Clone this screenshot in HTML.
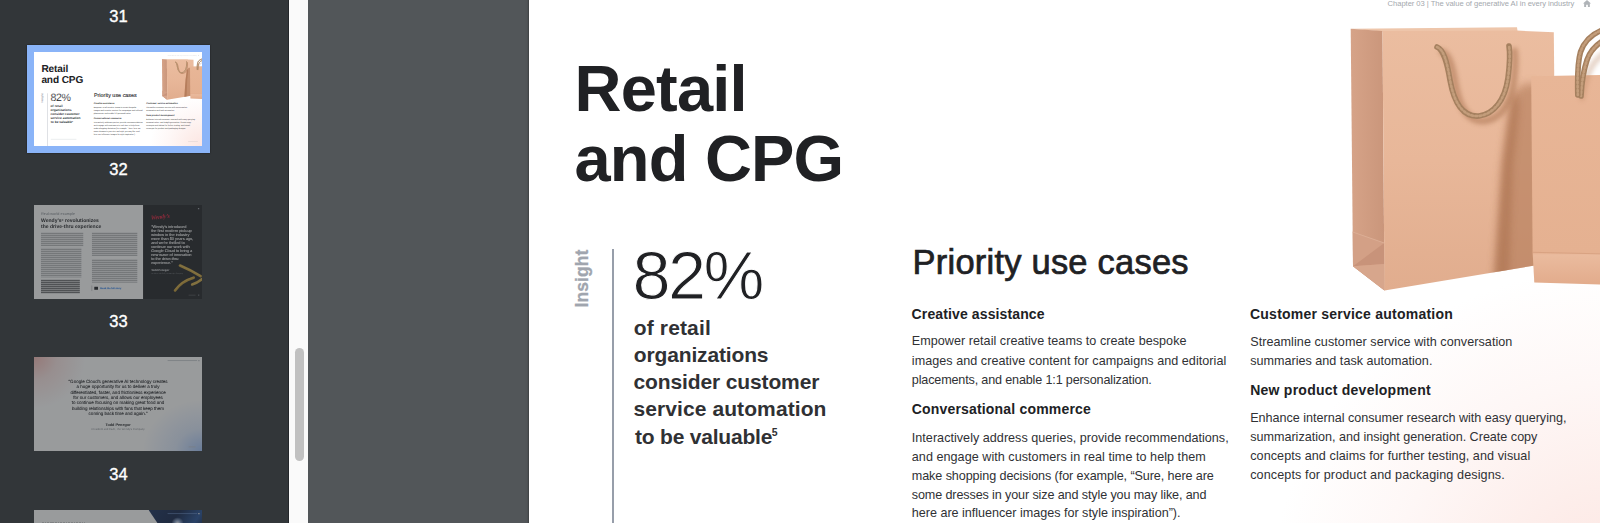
<!DOCTYPE html>
<html lang="en"><head><meta charset="utf-8"><title>Retail and CPG</title>
<style>
html,body{margin:0;padding:0;}
body{width:1600px;height:523px;overflow:hidden;background:#525659;font-family:"Liberation Sans",sans-serif;}
#app{position:relative;width:1600px;height:523px;overflow:hidden;}
.side{position:absolute;left:0;top:0;width:290px;height:523px;background:#323639;overflow:hidden;}
.track{position:absolute;left:289px;top:0;width:19px;height:523px;background:#fafafa;box-shadow:-1px 0 0 #23262a;}
.track .thumb{position:absolute;left:5.6px;top:348px;width:9px;height:113px;border-radius:5px;background:#c1c1c1;}
.main{position:absolute;left:308px;top:0;width:1292px;height:523px;background:#525659;overflow:hidden;}
.slide{position:absolute;left:-308px;top:0;width:1700px;height:600px;}
.pg{position:absolute;left:529px;top:-21px;width:1083px;height:609px;background:radial-gradient(ellipse 340px 320px at 100% 100%,#fce5e1 0%,#fdeeeb 32%,#fef7f6 64%,#fff 100%),#fff;box-shadow:0 0 2.5px 0 rgba(0,0,0,.55);}
.g{margin:0;padding:0;font-size:inherit;font-weight:400;display:block;}
.l{position:absolute;white-space:nowrap;display:block;vertical-align:baseline;}
.abs{position:absolute;}
.ins{position:absolute;left:552px;top:267.5px;width:60px;height:21px;line-height:21px;font-size:17.5px;font-weight:700;color:#a0a5ae;-webkit-text-stroke:0.3px #a0a5ae;transform:rotate(-90deg);text-align:center;white-space:nowrap;letter-spacing:0.1px;}
.vline{position:absolute;left:611.5px;top:248.5px;width:2px;height:340px;background:#979eaa;}
/* thumbnails */
.tn{position:absolute;left:0;width:237px;text-align:center;color:#fff;font-size:16.5px;line-height:18px;-webkit-text-stroke:0.35px #fff;}
.tb{position:absolute;left:34px;width:168.25px;height:93.85px;overflow:hidden;background:#fff;}
.sel{position:absolute;left:27px;top:45px;width:183px;height:108.3px;background:#8ab4f8;box-shadow:0 0 1.5px rgba(0,0,0,.6);}
.sc{position:absolute;left:0;top:0;width:1700px;height:700px;transform-origin:0 0;transform:scale(0.15535) translate(-527px,17px);}
.sc2{position:absolute;left:0;top:0;width:1083px;height:609px;transform-origin:0 0;transform:scale(0.15535);background:#fff;}
.dim{opacity:.5;}
.sc,.sc2{text-rendering:geometricPrecision;}
.a{position:absolute;}
.t{white-space:nowrap;}
.bars{background:repeating-linear-gradient(180deg,rgba(60,64,67,.12) 0,rgba(60,64,67,.12) 5px,rgba(60,64,67,.37) 5px,rgba(60,64,67,.37) 11px,rgba(60,64,67,.12) 11px,rgba(60,64,67,.12) 12.877px);}
.bars.b{background:repeating-linear-gradient(180deg,rgba(32,33,36,.3) 0,rgba(32,33,36,.3) 5px,rgba(32,33,36,.65) 5px,rgba(32,33,36,.65) 11px,rgba(32,33,36,.3) 11px,rgba(32,33,36,.3) 12.877px);}

</style></head><body>
<div id="app">
<div class="side">
<div class="tn" style="top:7.1px">31</div>
<div class="sel"></div>
<div class="tb" style="top:52px"><div class="sc">
<div class="pg"></div>
<svg class="abs" style="left:1582.6px;top:-0.4px" width="8" height="7.2" viewBox="0 0 18 16"><path d="M9 0 L0 8 H2.6 V16 H7 V10.5 H11 V16 H15.4 V8 H18 Z" fill="#b0b4b8"/></svg>
<div class="ins">Insight</div>
<div class="vline"></div>
<header class="g">
<span class="l" style="left:1387.60px;top:-0.73px;font-size:7.6px;line-height:10px;color:#a4a8ad;letter-spacing:-0.045px;">Chapter 03 | The value of generative AI in every industry</span>
</header>
<h1 class="g">
<span class="l" style="left:574.50px;top:46.98px;font-size:65px;line-height:84px;color:#202124;font-weight:700;letter-spacing:-0.780px;">Retail</span>
<span class="l" style="left:574.50px;top:116.98px;font-size:65px;line-height:84px;color:#202124;font-weight:700;letter-spacing:-0.800px;">and CPG</span>
</h1>
<div class="g">
<span class="l" style="left:632.60px;top:230.76px;font-size:68.5px;line-height:89px;color:#202124;letter-spacing:-2.650px;-webkit-text-stroke:1px #fff;">82%</span>
</div>
<p class="g">
<span class="l" style="left:633.80px;top:314.32px;font-size:21px;line-height:27px;color:#303134;font-weight:700;letter-spacing:0.138px;">of retail</span>
<span class="l" style="left:633.80px;top:341.22px;font-size:21px;line-height:27px;color:#303134;font-weight:700;letter-spacing:-0.150px;">organizations</span>
<span class="l" style="left:633.50px;top:368.22px;font-size:21px;line-height:27px;color:#303134;font-weight:700;letter-spacing:-0.125px;">consider customer</span>
<span class="l" style="left:633.50px;top:395.32px;font-size:21px;line-height:27px;color:#303134;font-weight:700;letter-spacing:0.088px;">service automation</span>
<span class="l" style="left:635.00px;top:422.52px;font-size:21px;line-height:27px;color:#303134;font-weight:700;letter-spacing:-0.208px;">to be valuable</span>
<sup class="l" style="left:771.70px;top:425.36px;font-size:10.5px;line-height:14px;color:#303134;font-weight:700;">5</sup>
</p>
<h2 class="g">
<span class="l" style="left:912.60px;top:239.85px;font-size:34.5px;line-height:45px;color:#202124;letter-spacing:0.218px;-webkit-text-stroke:0.7px #202124;">Priority use cases</span>
</h2>
<h3 class="g">
<span class="l" style="left:911.60px;top:305.25px;font-size:14px;line-height:18px;color:#202124;font-weight:700;letter-spacing:0.122px;">Creative assistance</span>
</h3>
<p class="g">
<span class="l" style="left:911.80px;top:333.43px;font-size:12.6px;line-height:16px;color:#303134;letter-spacing:0.037px;">Empower retail creative teams to create bespoke</span>
<span class="l" style="left:911.80px;top:352.63px;font-size:12.6px;line-height:16px;color:#303134;letter-spacing:0.041px;">images and creative content for campaigns and editorial</span>
<span class="l" style="left:911.80px;top:371.63px;font-size:12.6px;line-height:16px;color:#303134;letter-spacing:-0.155px;">placements, and enable 1:1 personalization.</span>
</p>
<h3 class="g">
<span class="l" style="left:911.70px;top:400.45px;font-size:14px;line-height:18px;color:#202124;font-weight:700;letter-spacing:0.182px;">Conversational commerce</span>
</h3>
<p class="g">
<span class="l" style="left:911.80px;top:429.63px;font-size:12.6px;line-height:16px;color:#303134;letter-spacing:0.022px;">Interactively address queries, provide recommendations,</span>
<span class="l" style="left:911.80px;top:448.63px;font-size:12.6px;line-height:16px;color:#303134;letter-spacing:0.040px;">and engage with customers in real time to help them</span>
<span class="l" style="left:911.80px;top:467.63px;font-size:12.6px;line-height:16px;color:#303134;letter-spacing:-0.087px;">make shopping decisions (for example, “Sure, here are</span>
<span class="l" style="left:911.80px;top:486.53px;font-size:12.6px;line-height:16px;color:#303134;letter-spacing:-0.121px;">some dresses in your size and style you may like, and</span>
<span class="l" style="left:911.80px;top:505.23px;font-size:12.6px;line-height:16px;color:#303134;letter-spacing:-0.016px;">here are influencer images for style inspiration”).</span>
</p>
<h3 class="g">
<span class="l" style="left:1250.00px;top:305.25px;font-size:14px;line-height:18px;color:#202124;font-weight:700;letter-spacing:0.227px;">Customer service automation</span>
</h3>
<p class="g">
<span class="l" style="left:1250.20px;top:333.83px;font-size:12.6px;line-height:16px;color:#303134;letter-spacing:0.057px;">Streamline customer service with conversation</span>
<span class="l" style="left:1250.20px;top:352.83px;font-size:12.6px;line-height:16px;color:#303134;letter-spacing:0.007px;">summaries and task automation.</span>
</p>
<h3 class="g">
<span class="l" style="left:1250.20px;top:381.25px;font-size:14px;line-height:18px;color:#202124;font-weight:700;letter-spacing:0.245px;">New product development</span>
</h3>
<p class="g">
<span class="l" style="left:1250.20px;top:410.43px;font-size:12.6px;line-height:16px;color:#303134;letter-spacing:-0.017px;">Enhance internal consumer research with easy querying,</span>
<span class="l" style="left:1250.20px;top:429.43px;font-size:12.6px;line-height:16px;color:#303134;letter-spacing:-0.010px;">summarization, and insight generation. Create copy</span>
<span class="l" style="left:1250.20px;top:448.43px;font-size:12.6px;line-height:16px;color:#303134;letter-spacing:0.070px;">concepts and claims for further testing, and visual</span>
<span class="l" style="left:1250.20px;top:467.43px;font-size:12.6px;line-height:16px;color:#303134;letter-spacing:0.110px;">concepts for product and packaging designs.</span>
</p>
<div class="abs" style="left:635px;top:542px;width:165px;height:5px;background:#e6e8eb"></div><div class="abs" style="left:1519px;top:556px;width:63px;height:4px;background:#e3d5d3"></div>
<svg class="abs" style="left:1340px;top:20px" width="290" height="290" viewBox="1340 20 290 290">
<defs>
<linearGradient id="gf" x1="0" y1="0" x2="0" y2="1"><stop offset="0" stop-color="#ebbda0"/><stop offset="0.5" stop-color="#e8b799"/><stop offset="1" stop-color="#e1ad8e"/></linearGradient>
<linearGradient id="gs" x1="0" y1="0" x2="1" y2="0"><stop offset="0" stop-color="#d6a388"/><stop offset="1" stop-color="#ca967b"/></linearGradient>
<linearGradient id="g2" x1="0" y1="0" x2="0" y2="1"><stop offset="0" stop-color="#e8b697"/><stop offset="0.845" stop-color="#e5b191"/><stop offset="0.855" stop-color="#eabb9e"/><stop offset="1" stop-color="#e2ab8b"/></linearGradient>
<clipPath id="cf"><polygon points="1382.5,31 1517,30.6 1553.8,32.3 1556,262 1384.5,290.6"/></clipPath>
<filter id="bl" x="-30%" y="-10%" width="160%" height="120%"><feGaussianBlur stdDeviation="4.5"/></filter>
<filter id="bl3" x="-100%" y="-10%" width="300%" height="120%"><feGaussianBlur stdDeviation="3"/></filter>
<filter id="bl2" x="-30%" y="-30%" width="160%" height="160%"><feGaussianBlur stdDeviation="2.2"/></filter>
</defs>
<!-- back panel sliver -->
<polygon points="1350.7,28.7 1517,27.3 1517.5,31 1382.5,31.4" fill="#eec6ab"/>
<!-- side panel -->
<polygon points="1350.7,28.7 1382.5,31 1384.5,290.6 1353,266.2" fill="url(#gs)"/>
<polygon points="1352.7,232 1384.2,243 1384.5,290.6 1353,266.2" fill="#d3a086"/>
<polygon points="1353,266.2 1384.2,243 1384.4,264" fill="#c8937a"/>
<polygon points="1353,266.2 1384.4,264 1384.5,290.6" fill="#d7a68c"/>
<path d="M1352.7 232 L1384.2 243" stroke="#dcae95" stroke-width="1" fill="none"/>
<!-- front panel -->
<polygon points="1382.5,31 1517,30.6 1553.8,32.3 1556,262 1384.5,290.6" fill="url(#gf)"/>
<g clip-path="url(#cf)">
<polygon points="1540,84 1522,84 1510,106 1502,165 1493,300 1540,300" fill="#b27a59" opacity="0.62" filter="url(#bl)"/>
<polygon points="1519,88 1511,100 1503,160 1493,300 1508,300 1513,165 1519,110" fill="#a96f4d" opacity="0.55" filter="url(#bl3)"/>
<path d="M1439 49 C1446 52 1449 64 1452 82 C1457 110 1468 119 1481 118 C1496 116 1507 102 1510 80 C1512 64 1512 54 1511 48" fill="none" stroke="#b07a58" stroke-width="7" stroke-linecap="round" opacity="0.6" filter="url(#bl2)" transform="translate(3.5,3)"/>
</g>
<!-- handle 1 -->
<g fill="none" stroke-linecap="round">
<path d="M1437 47 C1444 50 1447 62 1450 80 C1455 108 1466 117 1479 116 C1494 114 1505 100 1508 78 C1510 62 1510 52 1509 46" stroke="#a5805f" stroke-width="5.6"/>
<path d="M1437 47 C1444 50 1447 62 1450 80 C1455 108 1466 117 1479 116 C1494 114 1505 100 1508 78 C1510 62 1510 52 1509 46" stroke="#c39d7b" stroke-width="2.6" stroke-dasharray="1.8 2.4"/>
</g>
<!-- bag 2 -->
<polygon points="1531.2,76.3 1630,74.5 1630,285.5 1534.3,282.6 1532.6,252" fill="url(#g2)"/>
<path d="M1532.6 252.3 L1630 254.5" stroke="#d7a080" stroke-width="0.9" fill="none"/>
<!-- handle 2 -->
<g fill="none" stroke-linecap="round">
<path d="M1612 50 C1598 48 1588 62 1583 78 C1580 88 1579.5 93 1579 96" stroke="#b98563" stroke-width="6" opacity="0.35" filter="url(#bl2)" transform="translate(3,2)"/>
<path d="M1620 34 C1604 38 1592 46 1587 60 C1583 72 1581.5 86 1581 96" stroke="#a5805f" stroke-width="5.6"/>
<path d="M1620 34 C1604 38 1592 46 1587 60 C1583 72 1581.5 86 1581 96" stroke="#c39d7b" stroke-width="2.6" stroke-dasharray="1.8 2.4"/>
<path d="M1620 26 C1600 28 1586 36 1580.5 52 C1577 64 1577.5 82 1577.8 95" stroke="#a5805f" stroke-width="5.6"/>
<path d="M1620 26 C1600 28 1586 36 1580.5 52 C1577 64 1577.5 82 1577.8 95" stroke="#c39d7b" stroke-width="2.6" stroke-dasharray="1.8 2.4"/>
</g>
</svg>

</div></div>
<div class="tn" style="top:159.9px">32</div>

<div class="tb dim" style="top:205px"><div class="sc2 s33">
<div class="a" style="left:702px;top:0;width:381px;height:609px;background:#202124"></div>
<div class="a t" style="left:45px;top:42px;font-size:24.5px;color:#80868b;letter-spacing:.2px">Real-world example</div>
<div class="a t" style="left:45px;top:79px;font-size:32.5px;line-height:36.5px;font-weight:700;color:#202124">Wendy’s<span style="font-size:55%;vertical-align:top;position:relative;top:-3px">®</span> revolutionizes<br>the drive-thru experience</div>
<div class="a bars" style="left:45.0px;top:176.0px;width:272.0px;height:89.0px"></div>
<div class="a bars" style="left:45.0px;top:276.0px;width:260.0px;height:190.0px"></div>
<div class="a bars b" style="left:45.0px;top:480.0px;width:250.0px;height:89.0px"></div>
<div class="a bars" style="left:373.0px;top:176.0px;width:292.0px;height:152.0px"></div>
<div class="a bars" style="left:373.0px;top:348.0px;width:292.0px;height:152.0px"></div>
<div class="a" style="left:372px;top:518px;width:2px;height:36px;background:#5f6368"></div>
<div class="a" style="left:388px;top:526px;width:24px;height:20px;background:#202124;border-radius:2px"></div>
<div class="a t" style="left:427px;top:526px;font-size:15.5px;color:#1a73e8;text-decoration:underline;font-weight:700">Read the full story</div>
<div class="a t" style="left:752px;top:54px;font-size:38px;font-family:'Liberation Serif',serif;font-style:italic;font-weight:700;color:#e2203d;transform:rotate(-6deg) skewX(-8deg);letter-spacing:-1px">Wendy’s</div>
<div class="a t" style="left:754px;top:124px;font-size:25px;line-height:26.4px;color:#fff;-webkit-text-stroke:0.5px #fff">“Wendy’s introduced<br>the first modern pick-up<br>window in the industry<br>more than 50 years ago,<br>and we’re thrilled to<br>continue our work with<br>Google Cloud to bring a<br>new wave of innovation<br>to the drive-thru<br>experience.”</div>
<div class="a t" style="left:754px;top:411px;font-size:17.5px;font-weight:700;color:#e8eaed">Todd Penegor</div>
<div class="a t" style="left:754px;top:438px;font-size:10.5px;color:#9aa0a6">President and CEO, The Wendy’s Company</div>
<svg class="a" style="left:880px;top:370px" width="203" height="200" viewBox="880 370 203 200"><g fill="none" stroke-linecap="round"><path d="M940 390 Q1010 420 1072 458" stroke="#c9a23c" stroke-width="17"/><path d="M908 550 Q950 490 1028 468" stroke="#c39a34" stroke-width="17"/><path d="M1018 512 Q1055 500 1090 470" stroke="#d0aa45" stroke-width="16"/><path d="M942 388 Q1010 417 1070 453" stroke="#e3c467" stroke-width="4" opacity=".7"/><path d="M912 540 Q952 488 1024 464" stroke="#dfbf5f" stroke-width="4" opacity=".7"/></g></svg>
<div class="a" style="left:1055px;top:20px;width:9px;height:8px;background:#9aa0a6;border-radius:2px"></div>
<div class="a" style="left:995px;top:578px;width:45px;height:4px;background:#5f6368"></div>
<div class="a" style="left:1056px;top:577px;width:8px;height:6px;background:#80868b"></div>
</div></div>
<div class="tn" style="top:312.3px">33</div>

<div class="tb dim" style="top:357px;height:94px"><div class="sc2 s34">
<div class="a" style="left:0;top:0;width:1083px;height:609px;background:radial-gradient(ellipse 330px 330px at 0% 0%,rgba(234,67,53,.36) 0%,rgba(234,67,53,.13) 45%,rgba(234,67,53,0) 100%),radial-gradient(ellipse 380px 330px at 100% 100%,rgba(66,133,244,.5) 0%,rgba(66,133,244,.17) 45%,rgba(66,133,244,0) 100%),#fff"></div>
<div class="a t" style="left:141px;top:139px;width:800px;text-align:center;font-size:29px;line-height:34.8px;color:#202124;-webkit-text-stroke:0.6px #202124">“Google Cloud’s generative AI technology creates<br>a huge opportunity for us to deliver a truly<br>differentiated, faster, and frictionless experience<br>for our customers, and allows our employees<br>to continue focusing on making great food and<br>building relationships with fans that keep them<br>coming back time and again.”</div>
<div class="a t" style="left:141px;top:423px;width:800px;text-align:center;font-size:24.5px;font-weight:700;color:#202124">Todd Penegor</div>
<div class="a t" style="left:141px;top:455px;width:800px;text-align:center;font-size:17.5px;color:#80868b">President and CEO, The Wendy’s Company</div>
<div class="a" style="left:860px;top:21px;width:190px;height:5px;background:#bdc1c6"></div>
<div class="a" style="left:1057px;top:19px;width:9px;height:8px;background:#bdc1c6;border-radius:2px"></div>
<div class="a" style="left:995px;top:577px;width:45px;height:4px;background:#bdc1c6"></div>
</div></div>
<div class="tn" style="top:465.1px">34</div>

<div class="tb dim" style="top:510px"><div class="sc2 s35">
<div class="a" style="left:700px;top:0;width:383px;height:609px;clip-path:polygon(38px 0,383px 0,383px 512px);background:linear-gradient(125deg,#17305e 0%,#0f2147 30%,#234f96 48%,#0f2147 58%,#1c3f7e 78%,#10254e 100%)"></div>
<div class="a" style="left:860px;top:21px;width:190px;height:5px;background:#8ab4f8;opacity:.55"></div>
<div class="a" style="left:1057px;top:19px;width:9px;height:8px;background:#e8eaed;border-radius:2px"></div>
<div class="a" style="left:884px;top:46px;width:80px;height:80px;border-radius:50%;background:radial-gradient(circle,#fff 0%,rgba(190,215,255,.7) 30%,rgba(120,170,255,0) 70%)"></div>
<div class="a" style="left:51px;top:80px;width:277px;height:22px;background:repeating-linear-gradient(90deg,#202124 0,#202124 11px,transparent 11px,transparent 17px);opacity:.4"></div>
</div></div>

</div>
<div class="track"><div class="thumb"></div></div>
<div class="main"><div class="slide">
<div class="pg"></div>
<svg class="abs" style="left:1582.6px;top:-0.4px" width="8" height="7.2" viewBox="0 0 18 16"><path d="M9 0 L0 8 H2.6 V16 H7 V10.5 H11 V16 H15.4 V8 H18 Z" fill="#b0b4b8"/></svg>
<div class="ins">Insight</div>
<div class="vline"></div>
<header class="g">
<span class="l" style="left:1387.60px;top:-0.73px;font-size:7.6px;line-height:10px;color:#a4a8ad;letter-spacing:-0.045px;">Chapter 03 | The value of generative AI in every industry</span>
</header>
<h1 class="g">
<span class="l" style="left:574.50px;top:46.98px;font-size:65px;line-height:84px;color:#202124;font-weight:700;letter-spacing:-0.780px;">Retail</span>
<span class="l" style="left:574.50px;top:116.98px;font-size:65px;line-height:84px;color:#202124;font-weight:700;letter-spacing:-0.800px;">and CPG</span>
</h1>
<div class="g">
<span class="l" style="left:632.60px;top:230.76px;font-size:68.5px;line-height:89px;color:#202124;letter-spacing:-2.650px;-webkit-text-stroke:1px #fff;">82%</span>
</div>
<p class="g">
<span class="l" style="left:633.80px;top:314.32px;font-size:21px;line-height:27px;color:#303134;font-weight:700;letter-spacing:0.138px;">of retail</span>
<span class="l" style="left:633.80px;top:341.22px;font-size:21px;line-height:27px;color:#303134;font-weight:700;letter-spacing:-0.150px;">organizations</span>
<span class="l" style="left:633.50px;top:368.22px;font-size:21px;line-height:27px;color:#303134;font-weight:700;letter-spacing:-0.125px;">consider customer</span>
<span class="l" style="left:633.50px;top:395.32px;font-size:21px;line-height:27px;color:#303134;font-weight:700;letter-spacing:0.088px;">service automation</span>
<span class="l" style="left:635.00px;top:422.52px;font-size:21px;line-height:27px;color:#303134;font-weight:700;letter-spacing:-0.208px;">to be valuable</span>
<sup class="l" style="left:771.70px;top:425.36px;font-size:10.5px;line-height:14px;color:#303134;font-weight:700;">5</sup>
</p>
<h2 class="g">
<span class="l" style="left:912.60px;top:239.85px;font-size:34.5px;line-height:45px;color:#202124;letter-spacing:0.218px;-webkit-text-stroke:0.7px #202124;">Priority use cases</span>
</h2>
<h3 class="g">
<span class="l" style="left:911.60px;top:305.25px;font-size:14px;line-height:18px;color:#202124;font-weight:700;letter-spacing:0.122px;">Creative assistance</span>
</h3>
<p class="g">
<span class="l" style="left:911.80px;top:333.43px;font-size:12.6px;line-height:16px;color:#303134;letter-spacing:0.037px;">Empower retail creative teams to create bespoke</span>
<span class="l" style="left:911.80px;top:352.63px;font-size:12.6px;line-height:16px;color:#303134;letter-spacing:0.041px;">images and creative content for campaigns and editorial</span>
<span class="l" style="left:911.80px;top:371.63px;font-size:12.6px;line-height:16px;color:#303134;letter-spacing:-0.155px;">placements, and enable 1:1 personalization.</span>
</p>
<h3 class="g">
<span class="l" style="left:911.70px;top:400.45px;font-size:14px;line-height:18px;color:#202124;font-weight:700;letter-spacing:0.182px;">Conversational commerce</span>
</h3>
<p class="g">
<span class="l" style="left:911.80px;top:429.63px;font-size:12.6px;line-height:16px;color:#303134;letter-spacing:0.022px;">Interactively address queries, provide recommendations,</span>
<span class="l" style="left:911.80px;top:448.63px;font-size:12.6px;line-height:16px;color:#303134;letter-spacing:0.040px;">and engage with customers in real time to help them</span>
<span class="l" style="left:911.80px;top:467.63px;font-size:12.6px;line-height:16px;color:#303134;letter-spacing:-0.087px;">make shopping decisions (for example, “Sure, here are</span>
<span class="l" style="left:911.80px;top:486.53px;font-size:12.6px;line-height:16px;color:#303134;letter-spacing:-0.121px;">some dresses in your size and style you may like, and</span>
<span class="l" style="left:911.80px;top:505.23px;font-size:12.6px;line-height:16px;color:#303134;letter-spacing:-0.016px;">here are influencer images for style inspiration”).</span>
</p>
<h3 class="g">
<span class="l" style="left:1250.00px;top:305.25px;font-size:14px;line-height:18px;color:#202124;font-weight:700;letter-spacing:0.227px;">Customer service automation</span>
</h3>
<p class="g">
<span class="l" style="left:1250.20px;top:333.83px;font-size:12.6px;line-height:16px;color:#303134;letter-spacing:0.057px;">Streamline customer service with conversation</span>
<span class="l" style="left:1250.20px;top:352.83px;font-size:12.6px;line-height:16px;color:#303134;letter-spacing:0.007px;">summaries and task automation.</span>
</p>
<h3 class="g">
<span class="l" style="left:1250.20px;top:381.25px;font-size:14px;line-height:18px;color:#202124;font-weight:700;letter-spacing:0.245px;">New product development</span>
</h3>
<p class="g">
<span class="l" style="left:1250.20px;top:410.43px;font-size:12.6px;line-height:16px;color:#303134;letter-spacing:-0.017px;">Enhance internal consumer research with easy querying,</span>
<span class="l" style="left:1250.20px;top:429.43px;font-size:12.6px;line-height:16px;color:#303134;letter-spacing:-0.010px;">summarization, and insight generation. Create copy</span>
<span class="l" style="left:1250.20px;top:448.43px;font-size:12.6px;line-height:16px;color:#303134;letter-spacing:0.070px;">concepts and claims for further testing, and visual</span>
<span class="l" style="left:1250.20px;top:467.43px;font-size:12.6px;line-height:16px;color:#303134;letter-spacing:0.110px;">concepts for product and packaging designs.</span>
</p>
<div class="abs" style="left:635px;top:542px;width:165px;height:5px;background:#e6e8eb"></div><div class="abs" style="left:1519px;top:556px;width:63px;height:4px;background:#e3d5d3"></div>
<svg class="abs" style="left:1340px;top:20px" width="290" height="290" viewBox="1340 20 290 290">
<defs>
<linearGradient id="gf" x1="0" y1="0" x2="0" y2="1"><stop offset="0" stop-color="#ebbda0"/><stop offset="0.5" stop-color="#e8b799"/><stop offset="1" stop-color="#e1ad8e"/></linearGradient>
<linearGradient id="gs" x1="0" y1="0" x2="1" y2="0"><stop offset="0" stop-color="#d6a388"/><stop offset="1" stop-color="#ca967b"/></linearGradient>
<linearGradient id="g2" x1="0" y1="0" x2="0" y2="1"><stop offset="0" stop-color="#e8b697"/><stop offset="0.845" stop-color="#e5b191"/><stop offset="0.855" stop-color="#eabb9e"/><stop offset="1" stop-color="#e2ab8b"/></linearGradient>
<clipPath id="cf"><polygon points="1382.5,31 1517,30.6 1553.8,32.3 1556,262 1384.5,290.6"/></clipPath>
<filter id="bl" x="-30%" y="-10%" width="160%" height="120%"><feGaussianBlur stdDeviation="4.5"/></filter>
<filter id="bl3" x="-100%" y="-10%" width="300%" height="120%"><feGaussianBlur stdDeviation="3"/></filter>
<filter id="bl2" x="-30%" y="-30%" width="160%" height="160%"><feGaussianBlur stdDeviation="2.2"/></filter>
</defs>
<!-- back panel sliver -->
<polygon points="1350.7,28.7 1517,27.3 1517.5,31 1382.5,31.4" fill="#eec6ab"/>
<!-- side panel -->
<polygon points="1350.7,28.7 1382.5,31 1384.5,290.6 1353,266.2" fill="url(#gs)"/>
<polygon points="1352.7,232 1384.2,243 1384.5,290.6 1353,266.2" fill="#d3a086"/>
<polygon points="1353,266.2 1384.2,243 1384.4,264" fill="#c8937a"/>
<polygon points="1353,266.2 1384.4,264 1384.5,290.6" fill="#d7a68c"/>
<path d="M1352.7 232 L1384.2 243" stroke="#dcae95" stroke-width="1" fill="none"/>
<!-- front panel -->
<polygon points="1382.5,31 1517,30.6 1553.8,32.3 1556,262 1384.5,290.6" fill="url(#gf)"/>
<g clip-path="url(#cf)">
<polygon points="1540,84 1522,84 1510,106 1502,165 1493,300 1540,300" fill="#b27a59" opacity="0.62" filter="url(#bl)"/>
<polygon points="1519,88 1511,100 1503,160 1493,300 1508,300 1513,165 1519,110" fill="#a96f4d" opacity="0.55" filter="url(#bl3)"/>
<path d="M1439 49 C1446 52 1449 64 1452 82 C1457 110 1468 119 1481 118 C1496 116 1507 102 1510 80 C1512 64 1512 54 1511 48" fill="none" stroke="#b07a58" stroke-width="7" stroke-linecap="round" opacity="0.6" filter="url(#bl2)" transform="translate(3.5,3)"/>
</g>
<!-- handle 1 -->
<g fill="none" stroke-linecap="round">
<path d="M1437 47 C1444 50 1447 62 1450 80 C1455 108 1466 117 1479 116 C1494 114 1505 100 1508 78 C1510 62 1510 52 1509 46" stroke="#a5805f" stroke-width="5.6"/>
<path d="M1437 47 C1444 50 1447 62 1450 80 C1455 108 1466 117 1479 116 C1494 114 1505 100 1508 78 C1510 62 1510 52 1509 46" stroke="#c39d7b" stroke-width="2.6" stroke-dasharray="1.8 2.4"/>
</g>
<!-- bag 2 -->
<polygon points="1531.2,76.3 1630,74.5 1630,285.5 1534.3,282.6 1532.6,252" fill="url(#g2)"/>
<path d="M1532.6 252.3 L1630 254.5" stroke="#d7a080" stroke-width="0.9" fill="none"/>
<!-- handle 2 -->
<g fill="none" stroke-linecap="round">
<path d="M1612 50 C1598 48 1588 62 1583 78 C1580 88 1579.5 93 1579 96" stroke="#b98563" stroke-width="6" opacity="0.35" filter="url(#bl2)" transform="translate(3,2)"/>
<path d="M1620 34 C1604 38 1592 46 1587 60 C1583 72 1581.5 86 1581 96" stroke="#a5805f" stroke-width="5.6"/>
<path d="M1620 34 C1604 38 1592 46 1587 60 C1583 72 1581.5 86 1581 96" stroke="#c39d7b" stroke-width="2.6" stroke-dasharray="1.8 2.4"/>
<path d="M1620 26 C1600 28 1586 36 1580.5 52 C1577 64 1577.5 82 1577.8 95" stroke="#a5805f" stroke-width="5.6"/>
<path d="M1620 26 C1600 28 1586 36 1580.5 52 C1577 64 1577.5 82 1577.8 95" stroke="#c39d7b" stroke-width="2.6" stroke-dasharray="1.8 2.4"/>
</g>
</svg>
</div></div>
</div>
</body></html>
